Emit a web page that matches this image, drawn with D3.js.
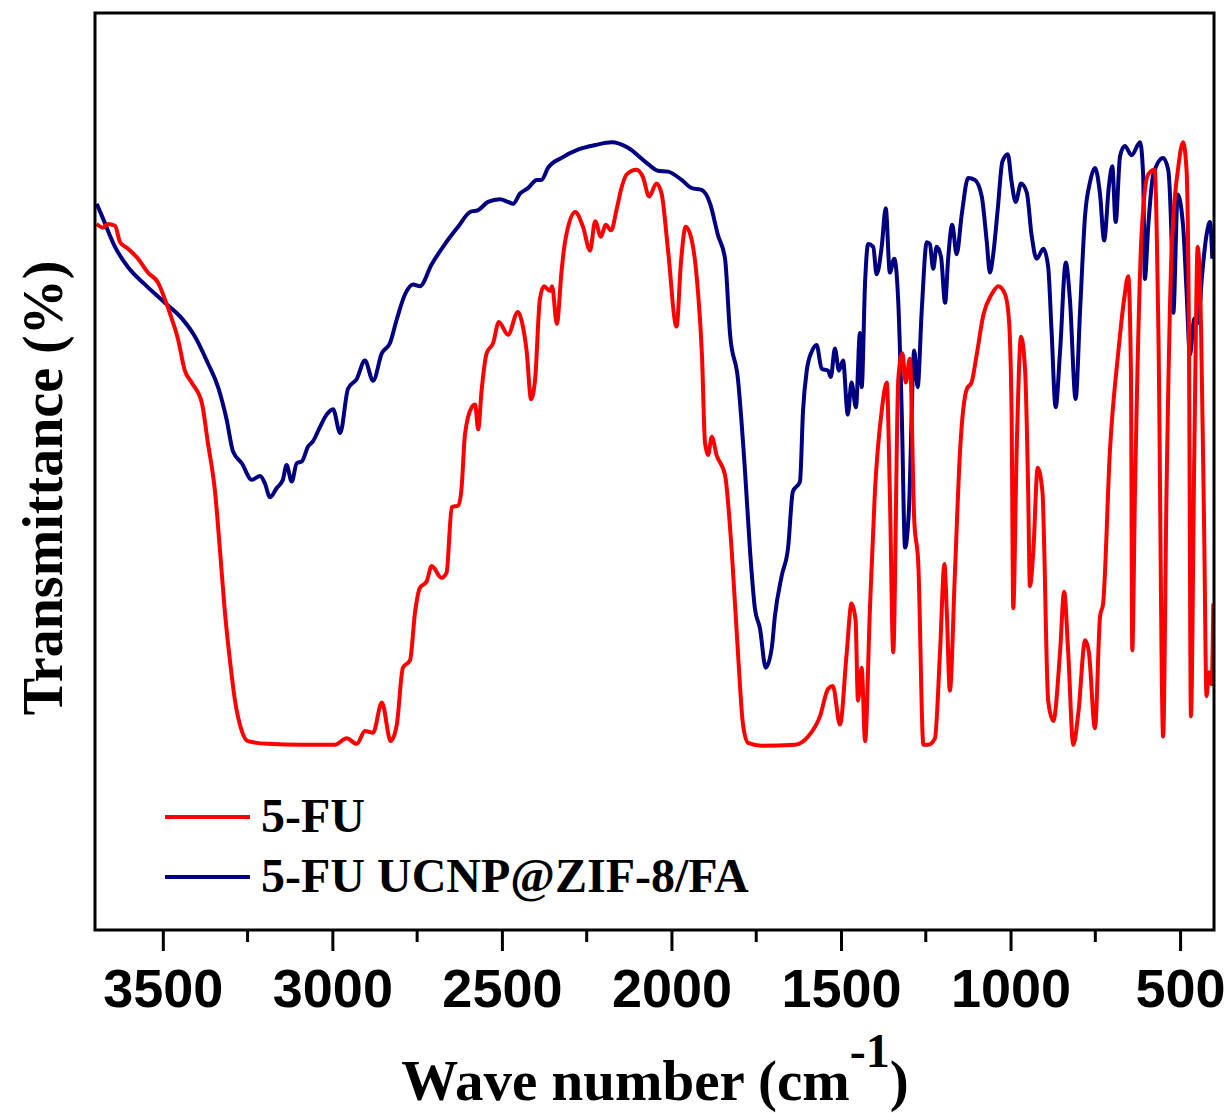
<!DOCTYPE html>
<html>
<head>
<meta charset="utf-8">
<script src="https://cdn.jsdelivr.net/npm/d3@7/dist/d3.min.js"></script>
<style>
  html, body { margin: 0; padding: 0; background: #fff; }
</style>
</head>
<body>
<svg id="chart"></svg>
<script>
// FTIR spectra: 5-FU vs 5-FU UCNP@ZIF-8/FA

const seriesNames = ['5-FU', '5-FU UCNP@ZIF-8/FA'];
const seriesColors = ['#ff0000', '#000080'];
const xTicks = [3500, 3000, 2500, 2000, 1500, 1000, 500];
const xMinorTicks = [3250, 2750, 2250, 1750, 1250, 750];

// wavenumber (cm-1)
const fuWave = [3695,3676,3662,3641,3626,3603,3573,3544,3514,3494,3474,3455,3435,3415,3385,3367,3346,3331,3317,3302,3287,3267,3249,3190,3090,2992,2958,2928,2904,2880,2854,2828,2810,2792,2771,2756,2742,2722,2707,2678,2663,2648,2629,2619,2609,2589,2579,2570,2560,2545,2526,2509,2482,2453,2438,2427,2414,2402,2388,2376,2358,2352,2338,2324,2314,2284,2261,2240,2225,2208,2194,2178,2161,2149,2132,2103,2084,2066,2044,2029,2010,1985,1972,1958,1940,1922,1910,1901,1892,1881,1867,1842,1822,1804,1789,1774,1734,1636,1597,1562,1538,1524,1503,1483,1469,1457,1450,1439,1429,1415,1400,1380,1365,1356,1346,1331,1319,1309,1297,1284,1272,1257,1243,1223,1208,1195,1188,1179,1164,1149,1129,1115,1100,1080,1056,1036,1016,1005,997,992,982,969,957,948,943,933,920,906,889,874,854,842,830,815,800,780,769,751,736,727,707,682,665,653,645,641,633,613,594,575,564,550,540,525,505,491,481,474,468,458,448,438,429,422,415,407,402];
// transmittance (a.u., %)
const fuTrans = [77.0,76.6,77.0,76.8,75.0,74.3,73.2,71.7,70.6,68.8,66.7,64.4,61.0,59.7,57.5,53.1,47.8,41.2,34.7,29.4,25.0,21.7,20.6,20.3,20.2,20.2,20.9,20.3,21.7,21.5,24.8,20.6,22.4,28.6,29.4,34.7,37.3,38.0,39.7,38.4,39.0,46.1,46.3,48.2,54.0,57.0,57.3,54.6,58.8,62.9,64.0,66.3,64.9,67.4,65.8,63.1,57.9,60.1,68.8,70.2,69.7,70.2,66.1,71.9,75.0,78.3,76.7,74.1,77.3,75.6,76.9,76.3,78.7,80.7,82.4,82.9,82.1,80.0,81.4,80.3,74.1,65.8,72.8,76.7,75.2,69.7,62.7,53.1,51.8,53.8,51.8,49.6,41.2,30.3,22.4,20.4,20.1,20.2,21.1,23.3,26.3,26.6,22.4,30.3,35.6,33.8,25.0,28.6,20.6,34.7,47.8,56.6,59.7,47.8,30.3,60.1,62.9,59.7,62.3,44.7,39.9,20.2,20.2,20.9,30.3,39.9,34.7,26.1,39.0,52.2,59.0,59.7,62.7,67.1,69.3,70.2,69.3,66.7,56.6,35.1,52.2,64.7,61.0,47.8,37.5,41.2,50.4,47.8,25.0,22.8,30.3,36.9,30.3,20.2,23.7,31.6,30.3,22.0,34.2,35.6,52.2,63.1,68.8,71.3,61.0,30.5,47.8,76.3,82.4,82.9,65.3,21.1,47.8,74.1,83.3,85.9,82.9,65.3,23.3,52.2,74.5,65.3,43.4,25.5,28.1,26.8,35.6];

const ucnpWave = [3695,3680,3641,3603,3553,3494,3444,3405,3367,3337,3312,3293,3267,3238,3213,3199,3184,3164,3146,3135,3120,3105,3090,3072,3057,3036,3017,2998,2977,2954,2928,2904,2880,2854,2830,2810,2786,2762,2742,2707,2668,2629,2594,2570,2541,2506,2482,2467,2447,2423,2397,2383,2364,2324,2276,2225,2176,2128,2078,2040,2010,1970,1940,1911,1886,1863,1842,1827,1804,1783,1768,1754,1739,1722,1704,1695,1675,1656,1642,1621,1612,1601,1586,1572,1557,1538,1530,1518,1506,1494,1480,1469,1456,1444,1439,1429,1420,1405,1395,1380,1368,1356,1343,1331,1321,1311,1300,1284,1274,1262,1247,1238,1228,1218,1205,1193,1184,1172,1159,1144,1125,1105,1085,1070,1061,1051,1038,1024,1008,997,985,969,952,938,923,903,889,879,867,854,837,825,808,795,780,766,751,736,724,710,700,690,677,663,643,618,609,604,594,579,550,535,525,520,507,491,481,471,458,446,436,422,412,405];
const ucnpTrans = [79.2,77.9,74.5,72.3,70.4,68.4,66.7,64.7,61.8,59.2,55.7,52.2,50.9,49.1,49.5,48.7,47.2,48.2,49.1,50.7,48.9,50.9,51.1,52.7,53.3,54.9,56.2,56.8,54.2,59.0,60.1,62.1,59.9,62.9,64.0,66.6,69.3,70.4,70.2,72.6,74.8,76.7,78.3,78.5,79.4,79.7,79.4,79.2,80.3,80.9,81.8,81.8,83.1,84.2,85.1,85.6,85.9,85.3,83.8,82.8,82.7,81.8,80.9,80.7,79.2,75.8,73.2,64.9,60.1,50.0,41.2,35.1,32.9,28.6,30.8,34.2,38.6,41.7,47.8,48.9,56.6,61.0,63.1,63.8,61.2,61.0,60.3,63.4,61.0,62.1,56.2,59.7,57.0,65.1,59.2,70.6,74.8,74.5,71.5,74.5,78.7,71.7,73.2,68.4,56.6,41.7,45.6,63.2,59.2,67.5,75.0,74.8,72.1,74.5,73.4,68.4,73.2,76.9,73.7,78.0,82.0,81.8,80.0,75.0,71.7,73.7,78.5,83.8,84.6,81.6,79.4,81.4,80.4,75.8,73.2,74.3,72.3,65.3,57.0,63.1,72.8,68.8,57.9,67.5,78.0,81.5,83.1,80.2,75.2,81.1,83.3,77.2,84.4,85.5,84.5,85.9,82.4,71.0,76.7,82.4,84.2,82.9,75.0,67.3,80.2,76.7,69.7,62.7,66.7,66.2,71.0,75.8,77.2,73.2];

const W = 1230, H = 1113;
const margin = { left: 95, top: 13, right: 1214, bottom: 930 };

const svg = d3.select('#chart')
  .attr('width', W)
  .attr('height', H)
  .attr('viewBox', `0 0 ${W} ${H}`);

svg.append('rect').attr('width', W).attr('height', H).attr('fill', '#fff');

const x = d3.scaleLinear().domain([3700, 400]).range([margin.left, margin.right]);
const y = d3.scaleLinear().domain([0, 100]).range([margin.bottom, margin.top]);

const line = d3.line()
  .x(d => x(d[0]))
  .y(d => y(d[1]))
  .curve(d3.curveMonotoneX);

svg.append('defs').append('clipPath').attr('id', 'plotClip')
  .append('rect')
  .attr('x', margin.left).attr('y', margin.top)
  .attr('width', margin.right - margin.left)
  .attr('height', margin.bottom - margin.top);

const plot = svg.append('g').attr('clip-path', 'url(#plotClip)');

const fuData = d3.zip(fuWave, fuTrans);
const ucnpData = d3.zip(ucnpWave, ucnpTrans);

// 藍線先畫，紅線在上
plot.append('path')
  .datum(ucnpData)
  .attr('d', line)
  .attr('fill', 'none')
  .attr('stroke', seriesColors[1])
  .attr('stroke-width', 4)
  .attr('stroke-linejoin', 'round');

plot.append('path')
  .datum(fuData)
  .attr('d', line)
  .attr('fill', 'none')
  .attr('stroke', seriesColors[0])
  .attr('stroke-width', 4)
  .attr('stroke-linejoin', 'round');

// 外框
svg.append('rect')
  .attr('x', margin.left).attr('y', margin.top)
  .attr('width', margin.right - margin.left)
  .attr('height', margin.bottom - margin.top)
  .attr('fill', 'none')
  .attr('stroke', '#000')
  .attr('stroke-width', 3);

// x 軸
const xAxis = svg.append('g')
  .attr('transform', `translate(0,${margin.bottom})`)
  .call(d3.axisBottom(x).tickValues(xTicks).tickSize(21).tickFormat(d3.format('d')));
xAxis.select('.domain').remove();
xAxis.selectAll('line').attr('stroke', '#000').attr('stroke-width', 3);
xAxis.selectAll('text')
  .attr('y', 77).attr('dy', null)
  .attr('fill', '#000')
  .attr('font-family', 'Arial, "Liberation Sans", sans-serif')
  .attr('font-weight', 'bold')
  .attr('font-size', 54);

svg.append('g')
  .attr('transform', `translate(0,${margin.bottom})`)
  .selectAll('line')
  .data(xMinorTicks)
  .join('line')
  .attr('x1', d => x(d)).attr('x2', d => x(d))
  .attr('y1', 0).attr('y2', 12)
  .attr('stroke', '#000').attr('stroke-width', 3);

// 軸標題
const xTitle = svg.append('text')
  .attr('x', 655).attr('y', 1100)
  .attr('text-anchor', 'middle')
  .attr('font-family', '"Times New Roman", "Liberation Serif", serif')
  .attr('font-weight', 'bold')
  .attr('font-size', 57)
  .attr('fill', '#000');
xTitle.append('tspan').text('Wave number (cm');
xTitle.append('tspan').attr('dy', -33).attr('font-size', 48).text('-1');
xTitle.append('tspan').attr('dy', 33).text(')');

svg.append('text')
  .attr('transform', 'translate(62,488) rotate(-90)')
  .attr('text-anchor', 'middle')
  .attr('font-family', '"Times New Roman", "Liberation Serif", serif')
  .attr('font-weight', 'bold')
  .attr('font-size', 56)
  .attr('fill', '#000')
  .text('Transmittance (%)');

// 圖例
const legend = svg.append('g');
const legendY = [817, 877];
seriesNames.forEach((name, i) => {
  legend.append('line')
    .attr('x1', 165).attr('x2', 250)
    .attr('y1', legendY[i]).attr('y2', legendY[i])
    .attr('stroke', seriesColors[i]).attr('stroke-width', 4);
  legend.append('text')
    .attr('x', 261).attr('y', legendY[i] + 15)
    .attr('font-family', '"Times New Roman", "Liberation Serif", serif')
    .attr('font-weight', 'bold')
    .attr('font-size', 48)
    .attr('fill', '#000')
    .text(name);
});
</script>
</body>
</html>
